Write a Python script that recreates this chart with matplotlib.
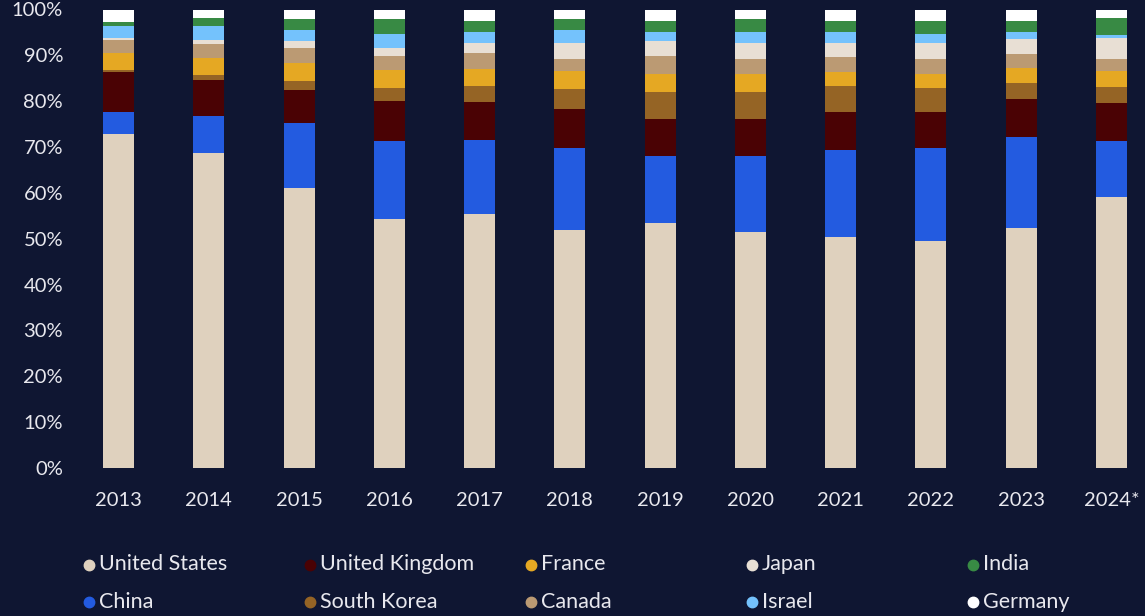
import matplotlib
matplotlib.use("Agg")
import matplotlib.pyplot as plt
from matplotlib.lines import Line2D
import numpy as np

years = ["2013", "2014", "2015", "2016", "2017", "2018", "2019", "2020", "2021", "2022", "2023", "2024*"]

# shares (%) stacked bottom -> top
united_states = [72.8, 68.6, 61.1, 54.4, 55.3, 52.0, 53.4, 51.5, 50.3, 49.5, 52.3, 59.2]
china         = [4.8, 8.1, 14.2, 17.0, 16.3, 17.9, 14.6, 16.6, 19.0, 20.3, 20.0, 12.2]
united_kingdom= [8.7, 7.9, 7.2, 8.7, 8.3, 8.3, 8.1, 8.1, 8.3, 7.8, 8.1, 8.3]
south_korea   = [0.4, 1.1, 2.0, 2.8, 3.5, 4.4, 5.9, 5.9, 5.7, 5.2, 3.5, 3.3]
france        = [3.9, 3.7, 3.9, 3.9, 3.7, 3.9, 3.9, 3.9, 3.1, 3.1, 3.3, 3.5]
canada        = [2.8, 3.1, 3.3, 3.1, 3.5, 2.8, 3.9, 3.3, 3.3, 3.3, 3.1, 2.8]
japan         = [0.4, 0.9, 1.5, 1.7, 2.0, 3.5, 3.3, 3.5, 3.1, 3.5, 3.3, 4.4]
israel        = [2.6, 3.1, 2.4, 3.1, 2.4, 2.8, 2.0, 2.4, 2.4, 2.0, 1.5, 0.7]
india         = [0.9, 1.7, 2.4, 3.3, 2.4, 2.4, 2.4, 2.8, 2.4, 2.8, 2.4, 3.7]
germany       = [2.6, 2.0, 2.0, 2.0, 2.6, 2.0, 2.6, 2.0, 2.6, 2.6, 2.6, 2.0]

series_names = ["United States", "China", "United Kingdom", "South Korea", "France",
                "Canada", "Japan", "Israel", "India", "Germany"]
series_values = [united_states, china, united_kingdom, south_korea, france,
                 canada, japan, israel, india, germany]
colors = ["#DFD1BE", "#235BE0", "#4A0204", "#956425", "#E5A823",
          "#BB9A73", "#E8DFD4", "#74C2FC", "#388A44", "#FFFFFF"]

BG = "#0F1632"
TXT = "#E8E8EE"
FONT = ["Lato", "DejaVu Sans"]
plt.rcParams["font.family"] = FONT

W, H = 1145, 616
fig = plt.figure(figsize=(W / 100, H / 100), dpi=100, facecolor=BG)
# axes in pixel terms: left 95, right 1135, bottom y=468, top y=9.5
ax = fig.add_axes([95 / W, (H - 468) / H, (1135 - 95) / W, (468 - 9.5) / H])
ax.set_facecolor(BG)

x = np.arange(len(years))
bottom = np.zeros(len(years))
for name, vals, c in zip(series_names, series_values, colors):
    v = np.array(vals, dtype=float)
    ax.bar(x, v, bottom=bottom, width=0.343, color=c, linewidth=0, label=name)
    bottom += v

ax.set_xlim(-0.26, 11.26)
ax.set_ylim(0, 100)
ax.set_xticks(x)
ax.set_xticklabels(years)
ax.set_yticks(np.arange(0, 101, 10))
ax.set_yticklabels([f"{t}%" for t in range(0, 101, 10)])
ax.tick_params(axis="both", length=0, colors=TXT, labelsize=14.5)
ax.tick_params(axis="x", pad=17)
ax.tick_params(axis="y", pad=23)
for s in ax.spines.values():
    s.set_visible(False)

# legend: 2 rows x 5 columns, filled column-wise in stacking order
for i, (name, c) in enumerate(zip(series_names, colors)):
    col, row = i // 2, i % 2
    px = 89 + col * 221
    py = 564.5 + row * 37
    fig.add_artist(Line2D([px / W], [1 - py / H], transform=fig.transFigure,
                          marker="o", markersize=7.5, color=c, linestyle="none"))
    fig.text((px + 10) / W, 1 - py / H, name, color=TXT, fontsize=15.5,
             va="center", ha="left")

fig.savefig("out.png", dpi=100, facecolor=BG)
